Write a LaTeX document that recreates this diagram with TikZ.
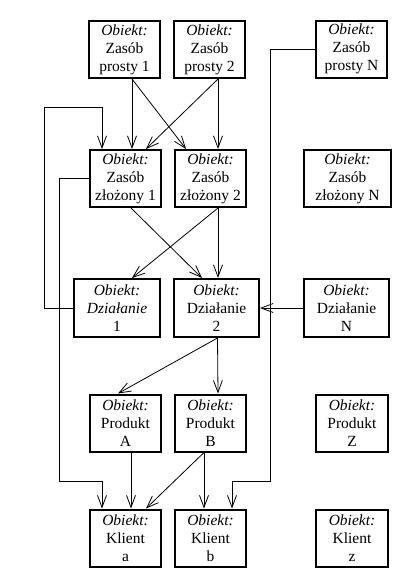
\documentclass[tikz,border=0pt]{standalone}
\usepackage{fontspec}
\setmainfont{Liberation Serif}
\usetikzlibrary{arrows.meta}
\begin{document}
\begin{tikzpicture}[x=1pt,y=-1pt,
  obj/.style={draw,line width=2pt,minimum width=71pt,minimum height=57pt,inner sep=0pt,align=center,font=\fontsize{15.5}{18}\selectfont},
  lnk/.style={line width=0.8pt,-{Straight Barb[length=12pt,width=9pt]}}]
\useasboundingbox (0,0) rectangle (418,584);

\node[obj] (zp1) at (124.5,49.5) {\textit{Obiekt:}\\Zasób\\prosty 1};
\node[obj] (zp2) at (209.5,49.5) {\textit{Obiekt:}\\Zasób\\prosty 2};
\node[obj] (zpN) at (351.5,49) {\textit{Obiekt:}\\Zasób\\prosty N};

\node[obj] (zz1) at (125.5,178.5) {\textit{Obiekt:}\\Zasób\\złożony 1};
\node[obj] (zz2) at (210.5,178.5) {\textit{Obiekt:}\\Zasób\\złożony 2};
\node[obj,minimum width=87pt] (zzN) at (347.5,178.5) {\textit{Obiekt:}\\Zasób\\złożony N};

\node[obj,minimum width=86pt,minimum height=58pt] (d1) at (117,308) {\textit{Obiekt:}\\\textit{Działanie}\\1};
\node[obj,minimum width=85pt,minimum height=58pt] (d2) at (216.5,308) {\textit{Obiekt:}\\Działanie\\2};
\node[obj,minimum width=85pt,minimum height=58pt] (dN) at (346.5,308) {\textit{Obiekt:}\\Działanie\\N};

\node[obj] (pA) at (125.5,423) {\textit{Obiekt:}\\Produkt\\A};
\node[obj] (pB) at (210.5,423) {\textit{Obiekt:}\\Produkt\\B};
\node[obj,minimum width=72pt] (pZ) at (352,423) {\textit{Obiekt:}\\Produkt\\Z};

\node[obj] (ka) at (125.5,538) {\textit{Obiekt:}\\Klient\\a};
\node[obj] (kb) at (210.5,538) {\textit{Obiekt:}\\Klient\\b};
\node[obj,minimum width=72pt] (kz) at (352,538) {\textit{Obiekt:}\\Klient\\z};

\coordinate (bendD) at (44,107);
\coordinate (bendZ) at (59,481);
\coordinate (bendN) at (270,481);

\draw[lnk] ([xshift=7.5]zp1.south) -- ([xshift=6.5]zz1.north);
\draw[lnk] ([xshift=7.5]zp1.south) -- ([xshift=-24.5]zz2.north);
\draw[lnk] ([xshift=8.5]zp2.south) -- ([xshift=20.5]zz1.north);
\draw[lnk] ([xshift=8.5]zp2.south) -- ([xshift=7.5]zz2.north);
\draw[lnk] (d1.west) -| (bendD) -| ([xshift=-23.5]zz1.north);
\draw[lnk] (zz1.west) -| (bendZ) -| ([xshift=-23.5]ka.north);
\draw[lnk] (zpN.west) -| (bendN) -| ([xshift=21.5]kb.north);

\draw[lnk] ([xshift=5.5]zz1.south) -- ([xshift=-14.5]d2.north);
\draw[lnk] ([xshift=7.5]zz2.south) -- ([xshift=15]d1.north);
\draw[lnk] ([xshift=7.5]zz2.south) -- ([xshift=1.5]d2.north);
\draw[lnk] (dN.west) -- (d2.east);

\draw[lnk] ([xshift=1]d2.south) -- ([xshift=-7.5]pA.north);
\draw[lnk] ([xshift=1]d2.south) -- ([xshift=7.5]pB.north);

\draw[lnk] ([xshift=5.5]pA.south) -- ([xshift=5.5]ka.north);
\draw[lnk] ([xshift=-6.5]pB.south) -- ([xshift=20.5]ka.north);
\draw[lnk] ([xshift=-6.5]pB.south) -- ([xshift=-6.5]kb.north);
\end{tikzpicture}
\end{document}
